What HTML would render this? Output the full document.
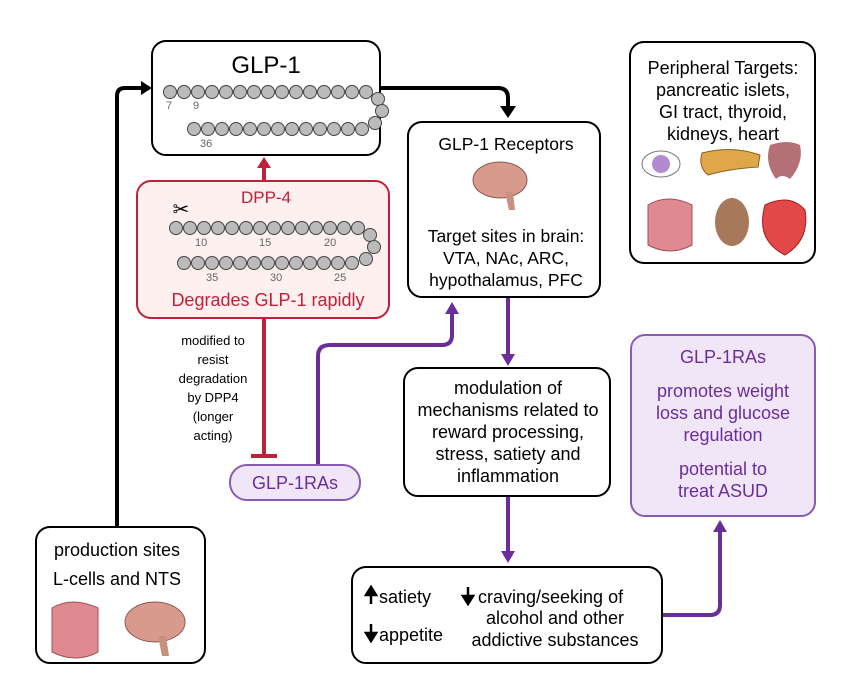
<!DOCTYPE html>
<html><head><meta charset="utf-8"><style>
body{margin:0;background:#fff}
svg{display:block;font-family:"Liberation Sans",Arial,sans-serif}
</style></head><body>
<svg width="843" height="679" viewBox="0 0 843 679" xmlns="http://www.w3.org/2000/svg">
<!-- connectors -->
<path d="M117,527 V96 Q117,88 125,88 H142" stroke="#000" stroke-width="4" fill="none"/>
<path d="M141,81 L152,88 L141,95z" fill="#000"/>
<path d="M380,88 H498 Q508,88 508,98 V108" stroke="#000" stroke-width="4" fill="none"/>
<path d="M500,106 L508,118 L516,106z" fill="#000"/>
<path d="M264,181 V166" stroke="#c0203a" stroke-width="4"/>
<path d="M257,168 L264,157 L271,168z" fill="#c0203a"/>
<path d="M264,318 V456" stroke="#c0203a" stroke-width="4"/>
<path d="M251,456 H277" stroke="#c0203a" stroke-width="4"/>
<path d="M318,465 V356 Q318,345 330,345 H442 Q452,345 452,335 V312" stroke="#6a2e9a" stroke-width="4" fill="none"/>
<path d="M445,314 L452,302 L459,314z" fill="#6a2e9a"/>
<path d="M508,297 V356" stroke="#6a2e9a" stroke-width="4"/>
<path d="M501,354 L508,366 L515,354z" fill="#6a2e9a"/>
<path d="M508,496 V553" stroke="#6a2e9a" stroke-width="4"/>
<path d="M501,551 L508,563 L515,551z" fill="#6a2e9a"/>
<path d="M662,615 H710 Q720,615 720,605 V530" stroke="#6a2e9a" stroke-width="4" fill="none"/>
<path d="M713,532 L720,520 L727,532z" fill="#6a2e9a"/>

<!-- GLP-1 box -->
<rect x="152" y="41" width="228" height="114" rx="14" fill="#fff" stroke="#000" stroke-width="2"/>
<text x="266" y="73" font-size="24" text-anchor="middle">GLP-1</text>
<g fill="#bbb" stroke="#444" stroke-width="1">
<circle cx="170" cy="92" r="6.5"/><circle cx="184" cy="92" r="6.5"/><circle cx="198" cy="92" r="6.5"/><circle cx="212" cy="92" r="6.5"/><circle cx="226" cy="92" r="6.5"/><circle cx="240" cy="92" r="6.5"/><circle cx="254" cy="92" r="6.5"/><circle cx="268" cy="92" r="6.5"/><circle cx="282" cy="92" r="6.5"/><circle cx="296" cy="92" r="6.5"/><circle cx="310" cy="92" r="6.5"/><circle cx="324" cy="92" r="6.5"/><circle cx="338" cy="92" r="6.5"/><circle cx="352" cy="92" r="6.5"/><circle cx="366" cy="92" r="6.5"/>
<circle cx="378" cy="99" r="6.5"/><circle cx="382" cy="111" r="6.5"/><circle cx="375" cy="123" r="6.5"/>
<circle cx="194" cy="129" r="6.5"/><circle cx="208" cy="129" r="6.5"/><circle cx="222" cy="129" r="6.5"/><circle cx="236" cy="129" r="6.5"/><circle cx="250" cy="129" r="6.5"/><circle cx="264" cy="129" r="6.5"/><circle cx="278" cy="129" r="6.5"/><circle cx="292" cy="129" r="6.5"/><circle cx="306" cy="129" r="6.5"/><circle cx="320" cy="129" r="6.5"/><circle cx="334" cy="129" r="6.5"/><circle cx="348" cy="129" r="6.5"/><circle cx="362" cy="129" r="6.5"/>
</g>
<g font-size="11" fill="#666"><text x="166" y="109">7</text><text x="193" y="109">9</text><text x="200" y="147">36</text></g>

<!-- DPP-4 box -->
<rect x="137" y="181" width="252" height="137" rx="14" fill="#fdf0ee" stroke="#c0203a" stroke-width="2"/>
<text x="266" y="203" font-size="17" fill="#c0203a" text-anchor="middle">DPP-4</text>
<text x="268" y="306" font-size="18" fill="#c0203a" text-anchor="middle">Degrades GLP-1 rapidly</text>
<text x="181" y="216" font-size="20" text-anchor="middle">✂</text>
<g fill="#bbb" stroke="#444" stroke-width="1">
<circle cx="176" cy="228" r="6.5"/><circle cx="190" cy="228" r="6.5"/><circle cx="204" cy="228" r="6.5"/><circle cx="218" cy="228" r="6.5"/><circle cx="232" cy="228" r="6.5"/><circle cx="246" cy="228" r="6.5"/><circle cx="260" cy="228" r="6.5"/><circle cx="274" cy="228" r="6.5"/><circle cx="288" cy="228" r="6.5"/><circle cx="302" cy="228" r="6.5"/><circle cx="316" cy="228" r="6.5"/><circle cx="330" cy="228" r="6.5"/><circle cx="344" cy="228" r="6.5"/><circle cx="358" cy="228" r="6.5"/>
<circle cx="370" cy="235" r="6.5"/><circle cx="374" cy="247" r="6.5"/><circle cx="366" cy="259" r="6.5"/>
<circle cx="184" cy="263" r="6.5"/><circle cx="198" cy="263" r="6.5"/><circle cx="212" cy="263" r="6.5"/><circle cx="226" cy="263" r="6.5"/><circle cx="240" cy="263" r="6.5"/><circle cx="254" cy="263" r="6.5"/><circle cx="268" cy="263" r="6.5"/><circle cx="282" cy="263" r="6.5"/><circle cx="296" cy="263" r="6.5"/><circle cx="310" cy="263" r="6.5"/><circle cx="324" cy="263" r="6.5"/><circle cx="338" cy="263" r="6.5"/><circle cx="352" cy="263" r="6.5"/>
</g>
<g font-size="11" fill="#666"><text x="195" y="246">10</text><text x="259" y="246">15</text><text x="324" y="246">20</text><text x="206" y="281">35</text><text x="270" y="281">30</text><text x="334" y="281">25</text></g>

<!-- modified text -->
<g font-size="13" text-anchor="middle"><text x="213" y="345">modified to</text><text x="213" y="364">resist</text><text x="213" y="383">degradation</text><text x="213" y="402">by DPP4</text><text x="213" y="421">(longer</text><text x="213" y="440">acting)</text></g>

<!-- pill -->
<rect x="230" y="465" width="130" height="35" rx="17" fill="#f1e6f8" stroke="#8a5ab5" stroke-width="2"/>
<text x="295" y="489" font-size="18" fill="#6a2e9a" text-anchor="middle">GLP-1RAs</text>

<!-- receptors -->
<rect x="408" y="122" width="192" height="175" rx="14" fill="#fff" stroke="#000" stroke-width="2"/>
<g font-size="17.5" text-anchor="middle"><text x="506" y="150">GLP-1 Receptors</text>
<text x="506" y="242">Target sites in brain:</text><text x="506" y="264">VTA, NAc, ARC,</text><text x="506" y="286">hypothalamus, PFC</text></g>
<ellipse cx="500" cy="180" rx="27" ry="18" fill="#d99a8e" stroke="#8a5a50"/>
<path d="M505,192 l4,18 l6,0 l-2,-18z" fill="#c8907f"/>

<!-- peripheral -->
<rect x="630" y="42" width="185" height="221" rx="14" fill="#fff" stroke="#000" stroke-width="2"/>
<g font-size="18" text-anchor="middle"><text x="723" y="74">Peripheral Targets:</text><text x="723" y="96">pancreatic islets,</text><text x="723" y="118">GI tract, thyroid,</text><text x="723" y="140">kidneys, heart</text></g>
<ellipse cx="661" cy="164" rx="19" ry="13" fill="#fff" stroke="#777"/>
<circle cx="661" cy="164" r="9" fill="#b28ad0"/>
<path d="M702,153 q30,-8 58,2 l-2,12 q-30,2 -50,8 q-10,-8 -6,-22z" fill="#e0a64a" stroke="#8a6020"/>
<path d="M770,145 q18,-6 30,0 q4,18 -10,34 q-8,-6 -14,0 q-12,-16 -6,-34z" fill="#b56f76"/>
<path d="M648,205 q20,-12 44,0 v40 q-22,12 -44,0z" fill="#df8a90" stroke="#a05058"/>
<ellipse cx="732" cy="222" rx="17" ry="24" fill="#a8785a"/>
<path d="M765,205 q25,-12 40,5 q5,30 -20,45 q-30,-15 -20,-50z" fill="#e24848" stroke="#a02020"/>

<!-- modulation -->
<rect x="404" y="368" width="206" height="128" rx="14" fill="#fff" stroke="#000" stroke-width="2"/>
<g font-size="18" text-anchor="middle"><text x="508" y="394">modulation of</text><text x="508" y="416">mechanisms related to</text><text x="508" y="438">reward processing,</text><text x="508" y="460">stress, satiety and</text><text x="508" y="482">inflammation</text></g>

<!-- GLP-1RAs right -->
<rect x="631" y="335" width="184" height="181" rx="14" fill="#f1e6f8" stroke="#8a5ab5" stroke-width="2"/>
<g font-size="18" fill="#6a2e9a" text-anchor="middle"><text x="723" y="363">GLP-1RAs</text><text x="723" y="397">promotes weight</text><text x="723" y="419">loss and glucose</text><text x="723" y="441">regulation</text><text x="723" y="475">potential to</text><text x="723" y="497">treat ASUD</text></g>

<!-- bottom effects -->
<rect x="352" y="567" width="310" height="96" rx="14" fill="#fff" stroke="#000" stroke-width="2"/>
<g fill="#000">
<path d="M371,604 V594 M366,595 L371,587 L376,595z" stroke="#000" stroke-width="2.5"/>
<path d="M371,624 V634 M366,633 L371,641 L376,633z" stroke="#000" stroke-width="2.5"/>
<path d="M468,587 V597 M463,596 L468,604 L473,596z" stroke="#000" stroke-width="2.5"/>
</g>
<g font-size="18"><text x="379" y="603">satiety</text><text x="379" y="641">appetite</text>
<text x="478" y="603">craving/seeking of</text><text x="555" y="624" text-anchor="middle">alcohol and other</text><text x="555" y="646" text-anchor="middle">addictive substances</text></g>

<!-- production -->
<rect x="36" y="527" width="169" height="136" rx="14" fill="#fff" stroke="#000" stroke-width="2"/>
<g font-size="18" text-anchor="middle"><text x="117" y="556">production sites</text><text x="117" y="585">L-cells and NTS</text></g>
<path d="M52,608 q20,-12 46,0 v44 q-22,12 -46,0z" fill="#df8a90" stroke="#a05058"/>
<ellipse cx="155" cy="622" rx="30" ry="20" fill="#d99a8e" stroke="#8a5a50"/>
<path d="M158,636 l4,20 l7,0 l-3,-20z" fill="#c8907f"/>
</svg>
</body></html>
